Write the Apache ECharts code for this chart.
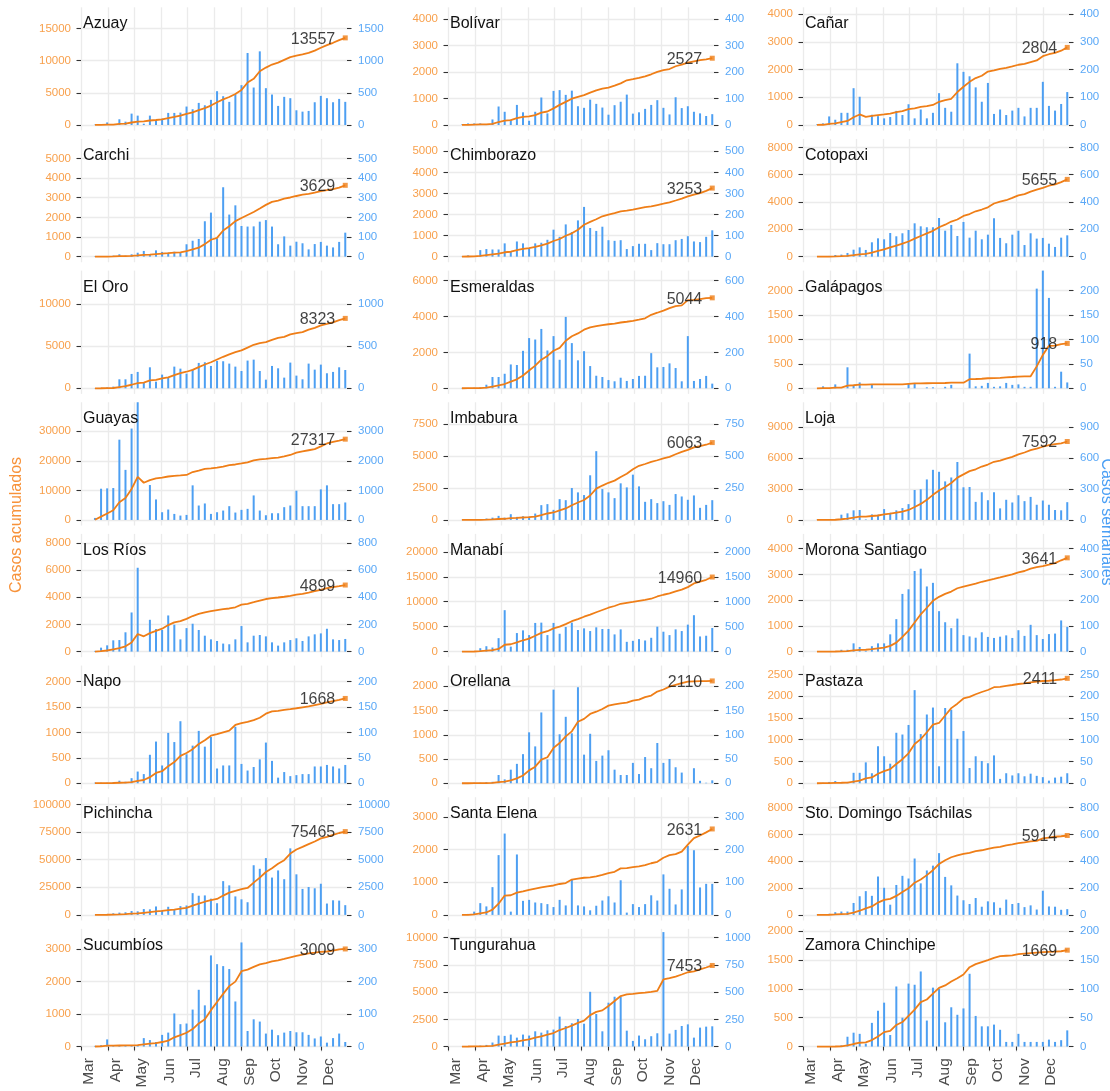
<!DOCTYPE html>
<html>
<head>
<meta charset="utf-8">
<script src="https://cdn.jsdelivr.net/npm/echarts@6/dist/echarts.min.js"></script>
<style>
  html, body { margin: 0; padding: 0; background: #ffffff; }
  #chart { width: 1110px; height: 1091px; }
</style>
</head>
<body>
<div id="chart"></div>
<script>
// Week ending dates (2020) shared by every province
const weekDates = [
  '2020-03-17','2020-03-24','2020-03-31','2020-04-07','2020-04-14','2020-04-21','2020-04-28',
  '2020-05-05','2020-05-12','2020-05-19','2020-05-26','2020-06-02','2020-06-09','2020-06-16',
  '2020-06-23','2020-06-30','2020-07-07','2020-07-14','2020-07-21','2020-07-28','2020-08-04',
  '2020-08-11','2020-08-18','2020-08-25','2020-09-01','2020-09-08','2020-09-15','2020-09-22',
  '2020-09-29','2020-10-06','2020-10-13','2020-10-20','2020-10-27','2020-11-03','2020-11-10',
  '2020-11-17','2020-11-24','2020-12-01','2020-12-08','2020-12-15','2020-12-22','2020-12-29'
];
const monthStarts = ['2020-03-01','2020-04-01','2020-05-01','2020-06-01','2020-07-01',
  '2020-08-01','2020-09-01','2020-10-01','2020-11-01','2020-12-01'];
const monthNames = ['Mar','Apr','May','Jun','Jul','Aug','Sep','Oct','Nov','Dec'];

const provinces = ['Azuay','Bolívar','Cañar','Carchi','Chimborazo','Cotopaxi','El Oro',
  'Esmeraldas','Galápagos','Guayas','Imbabura','Loja','Los Ríos','Manabí','Morona Santiago',
  'Napo','Orellana','Pastaza','Pichincha','Santa Elena','Sto. Domingo Tsáchilas','Sucumbíos',
  'Tungurahua','Zamora Chinchipe'];

// Weekly new cases (right axis) and cumulative cases (left axis), one pair per province
const weeklyAzuay = [5,15,40,10,89,52,177,146,20,146,78,99,188,188,193,287,245,344,307,391,526,448,360,479,620,1120,583,1146,573,474,297,438,417,229,208,219,354,453,417,354,406,360];
const cumAzuay = [5,20,60,70,159,211,388,534,554,700,778,877,1065,1253,1446,1733,1978,2322,2629,3020,3546,3994,4354,4833,5453,6599,7182,8358,8931,9405,9702,10140,10557,10786,10994,11213,11567,12020,12437,12791,13197,13557];

const weeklyBolivar = [2,6,6,6,2,21,70,50,20,76,48,16,50,104,44,129,132,114,130,71,65,96,80,66,39,75,88,115,43,48,61,76,94,65,40,105,64,71,50,44,34,41];
const cumBolivar = [2,8,14,20,22,43,113,163,183,259,307,323,373,467,511,630,762,876,996,1067,1132,1228,1308,1374,1413,1488,1576,1691,1734,1782,1843,1919,2013,2078,2118,2223,2287,2358,2408,2452,2486,2527];

const weeklyCanar = [2,6,31,19,44,44,133,102,0,37,32,24,29,51,36,75,24,56,24,44,115,62,48,223,192,176,136,84,152,40,56,36,52,62,31,62,62,156,69,52,76,119];
const cumCanar = [2,8,39,58,102,146,279,381,291,328,360,384,413,464,500,575,599,655,679,723,838,900,948,1191,1383,1559,1695,1779,1931,1971,2027,2063,2115,2177,2208,2270,2332,2488,2557,2609,2685,2804];

const weeklyCarchi = [2,2,2,5,12,5,12,20,29,10,32,24,20,25,22,63,81,90,180,224,93,353,214,261,156,153,154,178,186,153,63,103,56,76,68,37,64,75,56,47,75,122];
const cumCarchi = [2,4,6,11,23,28,40,60,89,99,131,155,175,200,222,285,366,456,636,860,953,1332,1546,1807,1963,2116,2270,2448,2634,2787,2850,2953,3009,3085,3153,3190,3254,3329,3385,3432,3507,3629];

const weeklyChimborazo = [1,6,3,31,36,34,34,63,25,72,63,38,63,66,80,128,94,153,117,172,236,136,122,142,78,75,78,36,50,61,61,31,64,59,59,78,84,97,72,69,94,125];
const cumChimborazo = [1,7,10,41,77,111,145,208,233,305,368,406,469,535,615,743,837,990,1107,1279,1515,1651,1773,1915,1993,2068,2146,2182,2232,2293,2354,2385,2449,2511,2578,2664,2756,2861,2941,3018,3120,3253];

const weeklyCotopaxi = [0,2,5,12,15,27,51,68,49,105,134,127,173,149,171,195,244,222,215,215,283,190,232,151,254,139,190,127,161,281,137,98,161,190,85,171,132,137,95,71,139,156];
const cumCotopaxi = [0,2,7,19,34,61,112,170,210,300,420,530,680,800,950,1110,1320,1510,1700,1890,2150,2340,2570,2720,2980,3120,3320,3450,3610,3890,4030,4130,4300,4490,4580,4760,4900,5040,5190,5290,5460,5655];

const weeklyElOro = [2,5,10,20,107,107,171,195,67,250,79,163,127,258,234,175,222,302,310,266,326,322,294,258,206,330,341,206,103,266,238,127,306,151,107,294,222,282,179,195,250,218];
const cumElOro = [2,7,17,37,144,251,422,617,684,934,1013,1176,1303,1561,1795,1970,2192,2526,2836,3102,3428,3750,4044,4302,4508,4838,5179,5385,5488,5754,5992,6119,6425,6576,6683,6977,7199,7481,7660,7855,8105,8323];

const weeklyEsmeraldas = [2,2,3,5,20,63,63,81,133,130,209,280,272,331,211,291,159,398,252,156,207,124,70,63,46,39,59,41,52,69,70,196,117,119,139,113,39,291,41,52,69,26];
const cumEsmeraldas = [2,4,7,12,32,95,158,239,372,502,711,991,1263,1594,1805,2096,2255,2653,2905,3061,3268,3392,3462,3525,3571,3610,3669,3710,3762,3831,3901,4097,4214,4333,4472,4585,4624,4915,4936,4973,5027,5044];

const weeklyGalapagos = [0,4,0,8,0,43,7,12,0,7,0,0,0,0,0,10,10,0,2,2,0,3,7,0,0,71,4,5,11,3,4,11,7,8,3,3,204,250,185,3,34,12];
const cumGalapagos = [0,4,4,12,12,55,62,74,74,81,81,81,81,81,81,91,101,101,103,105,105,108,115,115,115,186,190,195,206,209,213,224,231,239,242,245,449,684,869,872,906,918];

const weeklyGuayas = [68,1056,1068,1079,2715,1693,3090,4100,0,1181,693,261,352,204,148,170,1170,488,557,204,261,318,466,250,341,375,829,318,159,227,227,432,488,988,466,466,466,1034,1170,534,534,591];
const cumGuayas = [68,1124,2192,3271,5986,7386,10476,14576,12576,13476,14076,14337,14689,14893,15041,15211,16211,16699,17256,17460,17721,18039,18505,18755,19096,19471,20171,20489,20648,20875,21102,21479,21967,22767,23167,23567,23967,24867,25867,26367,26817,27317];

const weeklyImbabura = [1,2,5,5,11,18,32,18,45,24,29,26,50,116,124,79,163,155,250,216,195,350,539,242,216,171,287,255,355,263,142,163,132,147,118,203,184,158,192,95,118,155];
const cumImbabura = [1,3,8,13,24,42,74,92,137,161,190,216,266,382,506,585,748,903,1153,1369,1564,1914,2453,2695,2911,3082,3369,3624,3979,4242,4384,4547,4679,4826,4944,5147,5331,5489,5681,5776,5894,6063];

const weeklyLoja = [2,3,6,6,51,64,93,96,5,54,51,105,70,93,115,153,290,297,392,485,466,373,411,561,316,319,175,268,191,268,112,195,169,239,182,223,147,188,147,96,93,172];
const cumLoja = [2,5,11,17,68,132,225,321,326,380,431,536,606,699,814,967,1257,1554,1946,2431,2847,3190,3571,4092,4408,4727,4902,5170,5361,5629,5741,5936,6105,6344,6526,6749,6896,7084,7231,7327,7420,7592];

const weeklyLosRios = [5,29,46,83,85,142,288,617,0,234,166,159,266,198,90,173,205,159,117,90,78,59,54,90,188,68,117,122,112,68,44,68,85,98,78,112,127,134,168,90,85,93];
const cumLosRios = [5,34,80,163,248,390,678,1295,1125,1359,1525,1684,1950,2148,2238,2411,2616,2775,2892,2982,3060,3119,3173,3263,3451,3519,3636,3758,3870,3938,3982,4037,4107,4187,4252,4342,4442,4547,4677,4747,4817,4899];

const weeklyManabi = [2,5,10,68,108,81,270,831,100,372,426,331,575,581,331,575,358,493,581,433,466,412,487,453,453,345,446,196,216,250,223,277,500,399,331,446,412,541,730,304,318,473];
const cumManabi = [2,7,17,85,193,274,544,1375,1475,1847,2273,2604,3179,3760,4091,4666,5024,5517,6098,6531,6997,7409,7896,8349,8802,9147,9593,9789,9955,10175,10368,10605,11055,11404,11685,12081,12443,12934,13664,14018,14406,14960];

const weeklyMorona = [0,1,1,2,7,7,32,18,3,21,32,32,67,126,224,242,313,322,253,267,157,114,91,128,64,59,54,75,57,53,58,63,53,83,61,104,64,49,68,70,121,96];
const cumMorona = [0,1,2,4,11,18,50,68,71,92,124,156,223,349,573,815,1128,1450,1703,1970,2127,2241,2332,2460,2524,2583,2637,2712,2769,2822,2880,2943,2996,3079,3130,3224,3278,3317,3375,3435,3546,3641];

const weeklyNapo = [1,1,1,2,5,3,10,23,18,56,82,35,99,81,122,57,74,103,72,91,29,35,35,111,38,25,32,47,80,44,11,22,14,16,18,18,33,33,36,33,29,36];
const cumNapo = [1,2,3,5,10,13,23,46,64,120,202,237,336,417,539,596,670,773,845,936,965,1000,1035,1146,1184,1209,1241,1288,1368,1412,1423,1445,1459,1475,1493,1510,1536,1562,1591,1617,1639,1668];

const weeklyOrellana = [0,0,1,1,2,3,17,8,28,40,60,105,76,146,49,193,101,137,103,198,59,102,46,57,68,28,17,17,42,19,54,31,83,42,50,33,22,0,31,5,1,6];
const cumOrellana = [0,0,1,2,4,7,24,32,60,100,160,265,341,487,536,729,830,967,1070,1268,1327,1429,1475,1532,1600,1628,1645,1662,1704,1723,1777,1808,1891,1933,1993,2031,2063,2095,2100,2105,2106,2110];

const weeklyPastaza = [0,1,3,5,2,3,24,24,48,23,85,62,45,116,112,134,214,113,158,174,39,173,169,102,120,35,62,51,46,64,10,23,18,23,16,22,17,14,6,13,15,23];
const cumPastaza = [0,1,4,9,11,14,38,62,110,133,218,280,325,441,553,687,901,1014,1172,1346,1385,1558,1727,1829,1949,1984,2046,2097,2143,2207,2217,2240,2258,2281,2297,2319,2336,2350,2356,2369,2384,2411];

const weeklyPichincha = [5,30,88,147,206,235,353,323,529,500,764,412,735,470,794,853,1970,1735,1764,1470,1058,3058,2675,1676,1411,1147,4498,4175,5145,3381,4028,3234,6027,3675,2352,2528,2411,2822,1029,1323,1294,882];
const cumPichincha = [5,35,123,270,476,711,1064,1387,1916,2416,3180,3592,4327,4797,5591,6444,8414,10149,11913,13383,14441,17499,20174,21850,23261,24408,29206,33734,38879,42260,46288,49522,55549,59224,61576,64104,66515,69337,70766,72489,74183,75465];

const weeklySantaElena = [0,3,10,36,26,85,183,249,10,185,43,46,38,36,33,24,46,29,107,29,26,14,28,44,57,38,106,7,33,24,33,60,44,124,80,32,78,211,198,84,95,95];
const cumSantaElena = [0,3,13,49,75,160,343,592,602,680,723,769,807,843,876,900,946,975,1082,1111,1137,1151,1179,1223,1280,1318,1424,1431,1464,1488,1521,1581,1625,1749,1829,1861,1939,2150,2348,2432,2527,2631];

const weeklyStoDomingo = [1,3,8,20,25,25,89,139,177,142,286,202,76,223,291,271,420,235,331,367,460,283,220,144,109,81,126,61,101,94,53,114,81,89,58,71,40,180,63,61,38,43];
const cumStoDomingo = [1,4,12,32,57,82,171,310,487,629,915,1117,1193,1416,1707,1978,2398,2633,2964,3331,3791,4074,4294,4438,4547,4628,4754,4815,4916,5010,5063,5177,5258,5347,5405,5476,5516,5696,5759,5820,5858,5914];

const weeklySucumbios = [2,4,22,2,3,3,3,5,26,20,14,36,43,102,69,71,114,175,127,281,254,248,239,139,321,48,84,77,40,52,35,43,48,44,44,36,25,31,12,26,40,14];
const cumSucumbios = [2,6,28,30,33,36,39,44,70,90,104,140,183,285,354,425,539,714,841,1122,1376,1624,1863,2002,2323,2371,2455,2532,2572,2624,2659,2702,2750,2794,2838,2874,2894,2919,2931,2957,2997,3009];

const weeklyTungurahua = [1,2,4,8,15,37,101,98,110,82,110,101,140,128,149,156,275,189,214,253,210,503,299,140,403,458,458,146,52,101,67,95,122,1052,119,153,189,204,82,174,183,186];
const cumTungurahua = [1,3,7,15,30,67,168,266,376,458,568,669,809,937,1086,1242,1517,1706,1920,2173,2383,2886,3185,3325,3728,4186,4644,4790,4842,4913,4960,5025,5111,6163,6282,6435,6624,6828,6910,7084,7267,7453];

const weeklyZamora = [0,0,0,1,2,17,24,22,5,41,62,76,20,104,50,109,107,130,45,102,100,42,68,55,66,126,53,35,35,38,29,8,8,22,8,8,8,8,12,8,11,28];
const cumZamora = [0,0,0,1,3,20,44,66,71,112,174,250,270,374,424,533,640,770,815,917,1017,1059,1127,1182,1248,1374,1427,1462,1497,1535,1564,1572,1580,1602,1610,1618,1626,1634,1641,1644,1650,1669];

// Upper end of each cumulative axis and its tick step (weekly axis is the same divided by 10)
const cumAxisTop = [18314,4454,4253,5987,5584,8615,14012,6563,2409,39800,9224,11390,8662,23611,4571,2315,2427,2705,106612,3603,8767,3629,10818,2038];
const cumTickStep = [5000,1000,1000,1000,1000,2000,5000,2000,500,10000,2500,3000,2000,5000,1000,500,500,500,25000,1000,2000,1000,2500,500];

const weeklySeries = [weeklyAzuay,weeklyBolivar,weeklyCanar,weeklyCarchi,weeklyChimborazo,weeklyCotopaxi,
  weeklyElOro,weeklyEsmeraldas,weeklyGalapagos,weeklyGuayas,weeklyImbabura,weeklyLoja,weeklyLosRios,
  weeklyManabi,weeklyMorona,weeklyNapo,weeklyOrellana,weeklyPastaza,weeklyPichincha,weeklySantaElena,
  weeklyStoDomingo,weeklySucumbios,weeklyTungurahua,weeklyZamora];
const cumulativeSeries = [cumAzuay,cumBolivar,cumCanar,cumCarchi,cumChimborazo,cumCotopaxi,cumElOro,
  cumEsmeraldas,cumGalapagos,cumGuayas,cumImbabura,cumLoja,cumLosRios,cumManabi,cumMorona,cumNapo,
  cumOrellana,cumPastaza,cumPichincha,cumSantaElena,cumStoDomingo,cumSucumbios,cumTungurahua,cumZamora];

// ---- layout & style ----
const FONT = '"Liberation Sans", Arial, sans-serif';
const LINE_ORANGE = '#ef7e17';
const TEXT_ORANGE = '#f8a04c';
const TEXT_BLUE = '#5aa8f7';
const BAR_BLUE = '#4d9ff2';
const GRID_GREY = '#ebebeb';
const colLeft = [81, 448, 803];
const panelWidth = 266;
const panelHeight = 123.3;
const rowTop = r => 7.3 + 131.65 * r;

// dates become day offsets from 1 March 2020 on a numeric x axis
const DAY = 86400000;
const dayOf = s => Math.round((Date.parse(s + 'T00:00:00Z') - Date.parse('2020-03-01T00:00:00Z')) / DAY);
const weekDays = weekDates.map(dayOf);
const monthDays = monthStarts.map(dayOf);
const xMin = 0;
const xMax = dayOf('2020-12-31');

const grid = [], xAxis = [], yAxis = [], series = [], graphic = [];

provinces.forEach((name, i) => {
  const r = Math.floor(i / 3), c = i % 3;
  const bottomRow = r === 7;
  const top = rowTop(r);
  grid.push({ left: colLeft[c], top: top, width: panelWidth, height: panelHeight });

  xAxis.push({
    gridIndex: i, type: 'value', min: xMin, max: xMax,
    axisLine: { show: false },
    axisTick: { show: bottomRow, length: 4, lineStyle: { color: '#333', width: 1.1 }, customValues: monthDays },
    axisLabel: {
      show: bottomRow, customValues: monthDays, rotate: 90, margin: 6, verticalAlign: 'top',
      fontSize: 15.5, color: '#4d4d4d', fontFamily: FONT,
      formatter: v => monthNames[monthDays.indexOf(v)] || ''
    },
    splitLine: { show: true, lineStyle: { color: GRID_GREY, width: 1.3 } }
  });

  const topVal = cumAxisTop[i];
  const step = cumTickStep[i];
  const ticksLeft = [];
  for (let v = 0; v <= topVal; v += step) ticksLeft.push(v);
  const ticksRight = ticksLeft.map(v => v / 10);
  const bottomVal = -topVal * 0.05 / 1.05;

  yAxis.push({
    gridIndex: i, type: 'value', position: 'left', min: bottomVal, max: topVal,
    axisLine: { show: false },
    axisTick: { show: true, length: 4.5, lineStyle: { color: '#333', width: 1.1 }, customValues: ticksLeft },
    axisLabel: { customValues: ticksLeft, formatter: v => String(v), color: TEXT_ORANGE,
      fontSize: 11.5, fontFamily: FONT, margin: 10 },
    splitLine: { show: true, lineStyle: { color: GRID_GREY, width: 1.3 } }
  });
  yAxis.push({
    gridIndex: i, type: 'value', position: 'right', min: bottomVal / 10, max: topVal / 10,
    axisLine: { show: false },
    axisTick: { show: true, length: 4.5, lineStyle: { color: '#333', width: 1.1 }, customValues: ticksRight },
    axisLabel: { customValues: ticksRight, formatter: v => String(v), color: TEXT_BLUE,
      fontSize: 11.5, fontFamily: FONT, margin: 11 },
    splitLine: { show: false }
  });

  const weekly = weeklySeries[i];
  const cum = cumulativeSeries[i];
  series.push({
    type: 'bar', xAxisIndex: i, yAxisIndex: 2 * i + 1, barWidth: 2, silent: true,
    itemStyle: { color: BAR_BLUE }, clip: true,
    data: weekDays.map((d, k) => [d, weekly[k]])
  });
  series.push({
    type: 'line', xAxisIndex: i, yAxisIndex: 2 * i, symbol: 'none', silent: true, z: 3,
    lineStyle: { color: LINE_ORANGE, width: 1.8 },
    data: weekDays.map((d, k) => [d, cum[k]])
  });
  const last = cum.length - 1;
  series.push({
    type: 'scatter', xAxisIndex: i, yAxisIndex: 2 * i, symbol: 'rect', symbolSize: 5, silent: true, z: 4,
    itemStyle: { color: LINE_ORANGE },
    label: { show: true, position: 'left', distance: 7.5, offset: [0, 1.5],
      formatter: p => String(p.value[1]), fontSize: 16, color: '#111111', fontFamily: FONT },
    data: [[weekDays[last], cum[last]]]
  });

  graphic.push({
    type: 'text', x: colLeft[c] + 2, y: top + 16.5, silent: true, z: 100,
    style: { text: name, font: '16px ' + FONT, fill: '#111111', verticalAlign: 'middle', align: 'left' }
  });
});

graphic.push({
  type: 'text', x: 17, y: 525, rotation: Math.PI / 2, silent: true, z: 100,
  style: { text: 'Casos acumulados', font: '16px ' + FONT, fill: '#f7923a', align: 'center', verticalAlign: 'middle' }
});
graphic.push({
  type: 'text', x: 1106, y: 522, rotation: -Math.PI / 2, silent: true, z: 100,
  style: { text: 'Casos semanales', font: '16px ' + FONT, fill: '#4a9ff5', align: 'center', verticalAlign: 'middle' }
});

const chart = echarts.init(document.getElementById('chart'), null, { renderer: 'canvas' });
chart.setOption({
  animation: false,
  backgroundColor: '#ffffff',
  textStyle: { fontFamily: FONT },
  grid, xAxis, yAxis, series, graphic
});
</script>
</body>
</html>
